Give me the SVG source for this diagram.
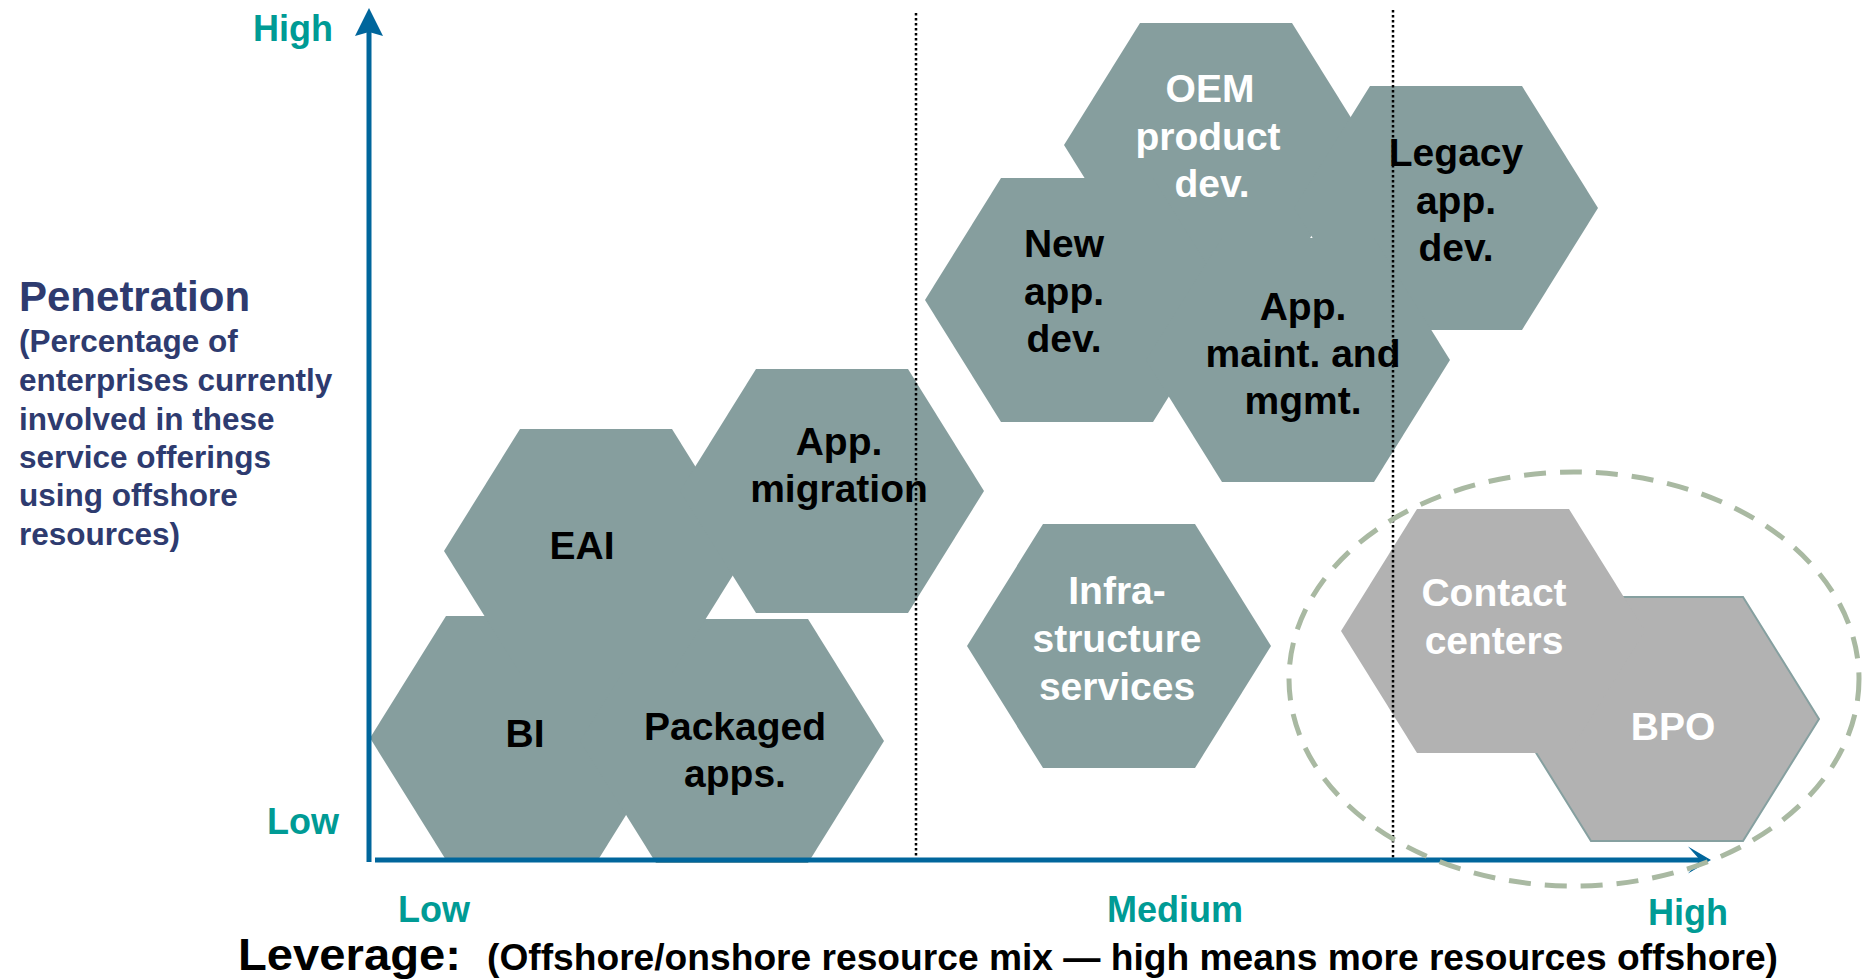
<svg xmlns="http://www.w3.org/2000/svg" xmlns:xlink="http://www.w3.org/1999/xlink" width="1863" height="980" viewBox="0 0 1863 980">
  <style>
    text { font-family: "Liberation Sans", Arial, Helvetica, sans-serif; font-weight: bold; }
    .hex { fill: #869e9e; }
    .hex-grey { fill: #b2b2b2; }
    .lbl { font-size: 39px; text-anchor: middle; }
    .dark { fill: #000000; }
    .light { fill: #ffffff; }
    .tick { font-size: 36px; fill: #009b95; }
    .title { fill: #2e3b6f; }
    .axis { stroke: #00669c; stroke-width: 5; fill: none; }
    .divider { stroke: #000000; stroke-width: 2.5; stroke-dasharray: 2.5 2.5; fill: none; }
  </style>
  <defs>
    <!-- flat-topped hexagon, centred on the origin -->
    <path id="hexShape" d="M-152 0 L-76 -122 L76 -122 L152 0 L76 122 L-76 122 Z"/>
    <marker id="arrow-up" viewBox="-6 -16 32 32" markerWidth="32" markerHeight="32" refX="0" refY="0" markerUnits="userSpaceOnUse" orient="auto">
      <path d="M24 0 L-4 -14 L0 0 L-4 14 Z" fill="#00669c"/>
    </marker>
    <marker id="arrow-right" viewBox="-14 -16 28 32" markerWidth="28" markerHeight="32" refX="0" refY="0" markerUnits="userSpaceOnUse" orient="auto">
      <path d="M11 0 L-12 -13.5 L0 0 L-12 13.5 Z" fill="#00669c"/>
    </marker>
  </defs>

  <rect width="1863" height="980" fill="#ffffff"/>

  <!-- service offering hexagons -->
  <g id="node-bi">
    <use xlink:href="#hexShape" href="#hexShape" class="hex" x="522" y="738"/>
    <text class="lbl dark" x="525" y="747">BI</text>
  </g>
  <g id="node-packaged-apps">
    <use xlink:href="#hexShape" href="#hexShape" class="hex" x="732" y="741"/>
    <text class="lbl dark" x="735" y="740">Packaged</text>
    <text class="lbl dark" x="735" y="787">apps.</text>
  </g>
  <g id="node-eai">
    <use xlink:href="#hexShape" href="#hexShape" class="hex" x="596" y="551"/>
    <text class="lbl dark" x="582" y="559">EAI</text>
  </g>
  <g id="node-app-migration">
    <use xlink:href="#hexShape" href="#hexShape" class="hex" x="832" y="491"/>
  </g>
  <g id="node-oem">
    <use xlink:href="#hexShape" href="#hexShape" class="hex" x="1216" y="145"/>
  </g>
  <g id="node-legacy">
    <use xlink:href="#hexShape" href="#hexShape" class="hex" x="1446" y="208"/>
  </g>
  <g id="node-new-app">
    <use xlink:href="#hexShape" href="#hexShape" class="hex" x="1077" y="300"/>
  </g>
  <g id="node-app-maint">
    <use xlink:href="#hexShape" href="#hexShape" class="hex" x="1298" y="360"/>
  </g>
  <g id="node-infrastructure">
    <use xlink:href="#hexShape" href="#hexShape" class="hex" x="1119" y="646"/>
    <text class="lbl light" x="1117" y="604">Infra-</text>
    <text class="lbl light" x="1117" y="652">structure</text>
    <text class="lbl light" x="1117" y="700">services</text>
  </g>
  <g id="node-bpo">
    <use xlink:href="#hexShape" href="#hexShape" class="hex-grey" x="1667" y="719" stroke="#86a0a0" stroke-width="2"/>
  </g>
  <g id="node-contact-centers">
    <use xlink:href="#hexShape" href="#hexShape" class="hex-grey" x="1493" y="631"/>
  </g>

  <!-- labels for overlapping hexagons, kept above all shapes -->
  <g id="labels">
    <text class="lbl dark" x="839" y="455">App.</text>
    <text class="lbl dark" x="839" y="502">migration</text>
    <text class="lbl light" x="1210" y="102">OEM</text>
    <text class="lbl light" x="1208" y="150">product</text>
    <text class="lbl light" x="1212" y="197">dev.</text>
    <text class="lbl dark" x="1064" y="257">New</text>
    <text class="lbl dark" x="1064" y="305">app.</text>
    <text class="lbl dark" x="1064" y="352">dev.</text>
    <text class="lbl dark" x="1456" y="166">Legacy</text>
    <text class="lbl dark" x="1456" y="214">app.</text>
    <text class="lbl dark" x="1456" y="261">dev.</text>
    <text class="lbl dark" x="1303" y="320">App.</text>
    <text class="lbl dark" x="1303" y="367">maint. and</text>
    <text class="lbl dark" x="1303" y="414">mgmt.</text>
    <text class="lbl light" x="1494" y="606">Contact</text>
    <text class="lbl light" x="1494" y="654">centers</text>
    <text class="lbl light" x="1673" y="740">BPO</text>
  </g>

  <!-- region dividers, drawn over the hexagons -->
  <g id="dividers">
    <line class="divider" x1="916" y1="13" x2="916" y2="860"/>
    <line class="divider" x1="1393" y1="10" x2="1393" y2="858"/>
  </g>

  <!-- axes -->
  <g id="connectors">
    <line class="axis" x1="369" y1="862" x2="369" y2="32" marker-end="url(#arrow-up)"/>
    <line class="axis" x1="375" y1="860" x2="1700" y2="860" marker-end="url(#arrow-right)"/>
  </g>

  <!-- highlight around the BPO cluster -->
  <ellipse id="bpo-highlight" cx="1574" cy="679" rx="285" ry="207" fill="none" stroke="#a9b9a2" stroke-width="5" stroke-dasharray="22 14"/>

  <!-- axis labels -->
  <g id="y-axis-labels">
    <text class="tick" x="333" y="41" text-anchor="end">High</text>
    <text class="tick" x="339" y="834" text-anchor="end">Low</text>
    <text class="title" x="19" y="311" font-size="42">Penetration</text>
    <text class="title" font-size="31.5">
      <tspan x="19" y="352">(Percentage of</tspan>
      <tspan x="19" y="391">enterprises currently</tspan>
      <tspan x="19" y="430">involved in these</tspan>
      <tspan x="19" y="468">service offerings</tspan>
      <tspan x="19" y="506">using offshore</tspan>
      <tspan x="19" y="545">resources)</tspan>
    </text>
  </g>
  <g id="x-axis-labels">
    <text class="tick" x="398" y="922">Low</text>
    <text class="tick" x="1107" y="922">Medium</text>
    <text class="tick" x="1648" y="925">High</text>
    <text x="238" y="970" font-size="44" fill="#000000" textLength="223" lengthAdjust="spacingAndGlyphs">Leverage:</text>
    <text x="487" y="970" font-size="36" fill="#000000" textLength="1291" lengthAdjust="spacingAndGlyphs">(Offshore/onshore resource mix — high means more resources offshore)</text>
  </g>
</svg>
